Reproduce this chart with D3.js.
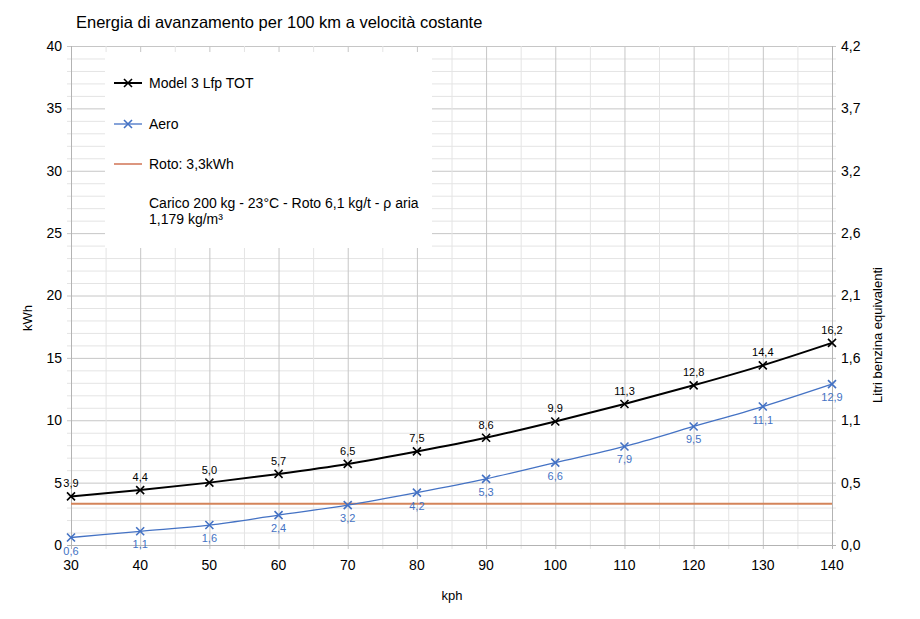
<!DOCTYPE html>
<html>
<head>
<meta charset="utf-8">
<script src="https://cdn.jsdelivr.net/npm/d3@7"></script>
<style>
  body { margin: 0; background: #fff; }
  svg { font-family: "Liberation Sans", Arial, Helvetica, sans-serif; }
</style>
</head>
<body>
<div id="chart"></div>
<script>
// data
var speeds = [30, 40, 50, 60, 70, 80, 90, 100, 110, 120, 130, 140];
var totValues = [3.9, 4.4, 5.0, 5.7, 6.5, 7.5, 8.6, 9.9, 11.3, 12.8, 14.4, 16.2];
var aeroValues = [0.6, 1.1, 1.6, 2.4, 3.2, 4.2, 5.3, 6.6, 7.9, 9.5, 11.1, 12.9];
var rotoValue = 3.3;
var leftTicks = [0, 5, 10, 15, 20, 25, 30, 35, 40];
var rightTickLabels = ["0,0", "0,5", "1,1", "1,6", "2,1", "2,6", "3,2", "3,7", "4,2"];
var xTicks = [30, 40, 50, 60, 70, 80, 90, 100, 110, 120, 130, 140];

var W = 920, H = 619;
var margin = {top: 46, right: 88, bottom: 74, left: 71};
var width = W - margin.left - margin.right;
var height = H - margin.top - margin.bottom;

var fmt = function(v) { return d3.format(".1f")(v).replace(".", ","); };

var svg = d3.select("#chart").append("svg")
  .attr("width", W)
  .attr("height", H);

var g = svg.append("g")
  .attr("transform", "translate(" + margin.left + "," + margin.top + ")");

var x = d3.scaleLinear().domain([30, 140]).range([0, width]);
var y = d3.scaleLinear().domain([0, 40]).range([height, 0]);

// grid: minor every 1 kWh / 5 kph, major on the labelled ticks
var minorY = d3.range(0, 41, 1);
var minorX = d3.range(30, 141, 5);

g.append("g").selectAll("line")
  .data(minorY)
  .enter().append("line")
  .attr("x1", -4).attr("x2", width + 4)
  .attr("y1", function(d) { return y(d) + 0.5; })
  .attr("y2", function(d) { return y(d) + 0.5; })
  .attr("stroke", function(d) { return d % 5 == 0 ? "#c6c6c6" : "#e4e4e4"; })
  .attr("stroke-width", 1);

g.append("g").selectAll("line")
  .data(minorX)
  .enter().append("line")
  .attr("x1", function(d) { return x(d) + 0.5; })
  .attr("x2", function(d) { return x(d) + 0.5; })
  .attr("y1", 0).attr("y2", height + 4)
  .attr("stroke", function(d) { return d % 10 == 0 ? "#c6c6c6" : "#e4e4e4"; })
  .attr("stroke-width", 1);

// axis lines
g.append("line").attr("x1", 0.5).attr("x2", 0.5).attr("y1", 0).attr("y2", height + 4)
  .attr("stroke", "#b3b3b3");
g.append("line").attr("x1", width + 0.5).attr("x2", width + 0.5).attr("y1", 0).attr("y2", height + 4)
  .attr("stroke", "#b3b3b3");
g.append("line").attr("x1", -4).attr("x2", width + 4).attr("y1", height + 0.5).attr("y2", height + 0.5)
  .attr("stroke", "#b3b3b3");

// left axis labels
g.append("g").selectAll("text")
  .data(leftTicks)
  .enter().append("text")
  .attr("x", -9)
  .attr("y", function(d) { return y(d); })
  .attr("dy", "0.35em")
  .attr("text-anchor", "end")
  .style("font-size", "14px")
  .text(function(d) { return d; });

// right axis labels
g.append("g").selectAll("text")
  .data(leftTicks)
  .enter().append("text")
  .attr("x", width + 9)
  .attr("y", function(d) { return y(d); })
  .attr("dy", "0.35em")
  .attr("text-anchor", "start")
  .style("font-size", "14px")
  .text(function(d, i) { return rightTickLabels[i]; });

// bottom axis labels
g.append("g").selectAll("text")
  .data(xTicks)
  .enter().append("text")
  .attr("x", function(d) { return x(d); })
  .attr("y", height + 25)
  .attr("text-anchor", "middle")
  .style("font-size", "14px")
  .text(function(d) { return d; });

// legend box (white, hides the grid)
g.append("rect")
  .attr("x", 105 - margin.left).attr("y", 52 - margin.top)
  .attr("width", 327).attr("height", 196)
  .attr("fill", "#fff");

// series
var totData = speeds.map(function(s, i) { return {s: s, v: totValues[i]}; });
var aeroData = speeds.map(function(s, i) { return {s: s, v: aeroValues[i]}; });

var line = d3.line()
  .x(function(d) { return x(d.s); })
  .y(function(d) { return y(d.v); })
  .curve(d3.curveMonotoneX);

g.append("line")
  .attr("x1", x(30)).attr("x2", x(140))
  .attr("y1", y(rotoValue)).attr("y2", y(rotoValue))
  .attr("stroke", "#d4845a").attr("stroke-width", 2);

g.append("path").datum(aeroData)
  .attr("d", line).attr("fill", "none")
  .attr("stroke", "#4472c4").attr("stroke-width", 1.3);

g.append("path").datum(totData)
  .attr("d", line).attr("fill", "none")
  .attr("stroke", "#000").attr("stroke-width", 2);

function crosses(data, color, sw) {
  g.append("g").selectAll("path")
    .data(data)
    .enter().append("path")
    .attr("d", function(d) {
      var cx = x(d.s), cy = y(d.v), r = 4;
      return "M" + (cx - r) + "," + (cy - r) + "L" + (cx + r) + "," + (cy + r) +
             "M" + (cx - r) + "," + (cy + r) + "L" + (cx + r) + "," + (cy - r);
    })
    .attr("stroke", color).attr("stroke-width", sw).attr("fill", "none");
}
crosses(aeroData, "#4472c4", 1.6);
crosses(totData, "#000", 1.6);

// data labels
g.append("g").selectAll("text")
  .data(totData)
  .enter().append("text")
  .attr("x", function(d) { return x(d.s); })
  .attr("y", function(d) { return y(d.v) - 9; })
  .attr("text-anchor", "middle")
  .style("font-size", "11px")
  .text(function(d) { return fmt(d.v); });

g.append("g").selectAll("text")
  .data(aeroData)
  .enter().append("text")
  .attr("x", function(d) { return x(d.s); })
  .attr("y", function(d) { return y(d.v) + 17; })
  .attr("text-anchor", "middle")
  .attr("fill", "#4472c4")
  .style("font-size", "11px")
  .text(function(d) { return fmt(d.v); });

// legend
var legend = svg.append("g");
var lx = 114, lw = 28, tx = 149;

legend.append("line").attr("x1", lx).attr("x2", lx + lw).attr("y1", 83).attr("y2", 83)
  .attr("stroke", "#000").attr("stroke-width", 2);
legend.append("path")
  .attr("d", "M" + (lx + lw / 2 - 4) + ",79L" + (lx + lw / 2 + 4) + ",87M" + (lx + lw / 2 - 4) + ",87L" + (lx + lw / 2 + 4) + ",79")
  .attr("stroke", "#000").attr("stroke-width", 1.6);
legend.append("text").attr("x", tx).attr("y", 83).attr("dy", "0.35em")
  .style("font-size", "14px").text("Model 3 Lfp TOT");

legend.append("line").attr("x1", lx).attr("x2", lx + lw).attr("y1", 124).attr("y2", 124)
  .attr("stroke", "#4472c4").attr("stroke-width", 1.3);
legend.append("path")
  .attr("d", "M" + (lx + lw / 2 - 4) + ",120L" + (lx + lw / 2 + 4) + ",128M" + (lx + lw / 2 - 4) + ",128L" + (lx + lw / 2 + 4) + ",120")
  .attr("stroke", "#4472c4").attr("stroke-width", 1.6);
legend.append("text").attr("x", tx).attr("y", 124).attr("dy", "0.35em")
  .style("font-size", "14px").text("Aero");

legend.append("line").attr("x1", lx).attr("x2", lx + lw).attr("y1", 164).attr("y2", 164)
  .attr("stroke", "#c5502a").attr("stroke-width", 1.2);
legend.append("text").attr("x", tx).attr("y", 164).attr("dy", "0.35em")
  .style("font-size", "14px").text("Roto: 3,3kWh");

legend.append("text").attr("x", tx).attr("y", 203).attr("dy", "0.35em")
  .style("font-size", "14px").text("Carico 200 kg - 23°C - Roto 6,1 kg/t - ρ aria");
legend.append("text").attr("x", tx).attr("y", 219).attr("dy", "0.35em")
  .style("font-size", "14px").text("1,179 kg/m³");

// titles
svg.append("text").attr("x", 76).attr("y", 28)
  .style("font-size", "16.5px").text("Energia di avanzamento per 100 km a velocità costante");

svg.append("text")
  .attr("transform", "translate(32,318) rotate(-90)")
  .attr("text-anchor", "middle")
  .style("font-size", "13px").text("kWh");

svg.append("text")
  .attr("transform", "translate(882,335) rotate(-90)")
  .attr("text-anchor", "middle")
  .style("font-size", "13px").text("Litri benzina equivalenti");

svg.append("text").attr("x", 452).attr("y", 600)
  .attr("text-anchor", "middle")
  .style("font-size", "13px").text("kph");
</script>
</body>
</html>
